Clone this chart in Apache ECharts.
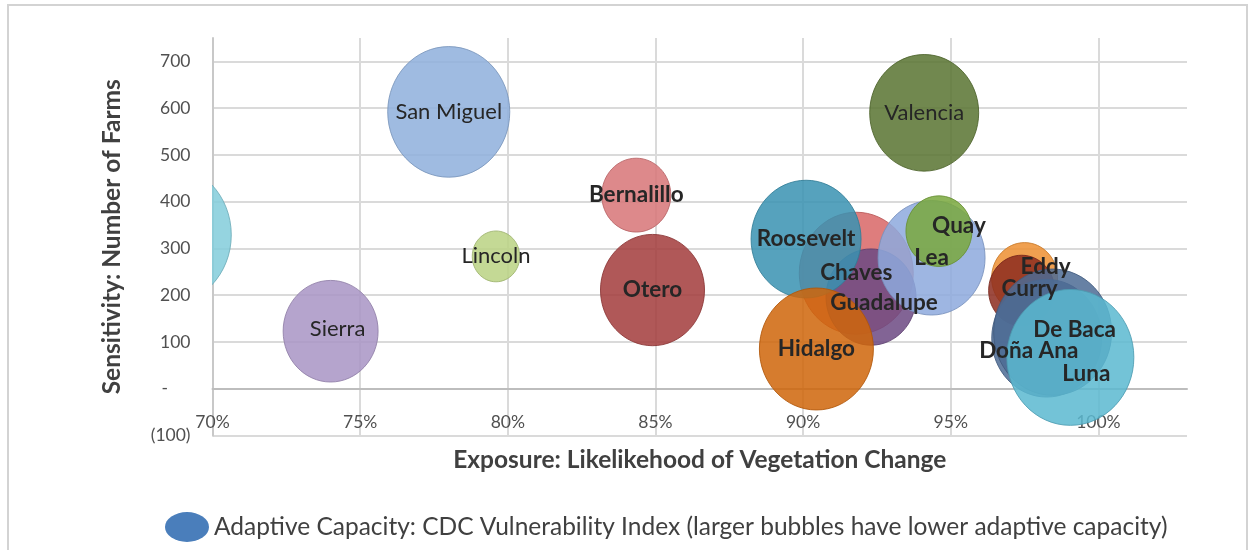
<!DOCTYPE html>
<html>
<head>
<meta charset="utf-8">
<script src="https://cdn.jsdelivr.net/npm/echarts@6/dist/echarts.min.js"></script>
<style>
  html, body { margin: 0; padding: 0; background: #ffffff; }
  #chart { width: 1255px; height: 550px; }
</style>
</head>
<body>
<div id="chart"></div>
<script>
// ---- Data ----
const counties = ['Mora', 'Sierra', 'San Miguel', 'Lincoln', 'Bernalillo', 'Otero', 'Valencia',
  'Chaves', 'Guadalupe', 'Lea', 'Quay', 'Roosevelt', 'Hidalgo', 'Eddy', 'Curry',
  'Doña Ana', 'De Baca', 'Luna'];
// Exposure: likelihood of vegetation change (%)
const exposure = [68.4, 74.0, 78.0, 79.6, 84.35, 84.9, 94.1,
  91.8, 92.3, 94.35, 94.6, 90.1, 90.45, 97.5, 97.4,
  98.25, 98.45, 99.05];
// Sensitivity: number of farms
const farms = [329, 123, 592, 283, 414, 211, 590,
  247, 196, 280, 337, 320, 85, 237, 210,
  108, 121, 67];
// Adaptive capacity: CDC vulnerability index (bubble size)
const cdcIndex = [0.89, 0.46, 0.76, 0.115, 0.243, 0.552, 0.606,
  0.663, 0.413, 0.584, 0.222, 0.617, 0.663, 0.222, 0.222,
  0.617, 0.71, 0.823];
const yTickValues = [-100, 0, 100, 200, 300, 400, 500, 600, 700];
const xTickValues = [70, 75, 80, 85, 90, 95, 100];

const xTitle = 'Exposure: Likelikehood of Vegetation Change';
const yTitle = 'Sensitivity: Number of Farms';
const legendLabel = 'Adaptive Capacity: CDC Vulnerability Index (larger bubbles have lower adaptive capacity)';

// ---- Styles ----
const bubbleColors = ['#83CCDA', '#A894C4', '#8EAFDC', '#BAD283', '#D77477', '#A23B3B', '#587330',
  '#D86666', '#6C4983', '#8DA9DD', '#79A83D', '#3892B2', '#CF6509', '#ED8F31', '#8C2C1E',
  '#4C6B94', '#4C6B94', '#5AB8D0'];
const regularLabels = ['San Miguel', 'Valencia', 'Lincoln', 'Sierra'];
const labelNudge = {
  'Sierra': [7, -2], 'Guadalupe': [13, 6], 'Quay': [20, -5], 'Eddy': [21, -11],
  'Curry': [8, -2], 'De Baca': [22, -2], 'Doña Ana': [-18, 13], 'Luna': [16, 16]
};
const SIZE_K = 140;     // diameter in px for an index of 1
const STRETCH_Y = 1.07; // reference picture is slightly stretched vertically
const FONT = 'Lato, "Open Sans", sans-serif';

const rows = counties.map((c, i) => [exposure[i], farms[i], cdcIndex[i]]);

function darker(hex, f) {
  const n = parseInt(hex.slice(1), 16);
  const r = Math.round(((n >> 16) & 255) * f), g = Math.round(((n >> 8) & 255) * f), b = Math.round((n & 255) * f);
  return 'rgb(' + r + ',' + g + ',' + b + ')';
}

const chart = echarts.init(document.getElementById('chart'), null, { renderer: 'canvas' });

const option = {
  backgroundColor: '#ffffff',
  animation: false,
  graphic: [{
    type: 'rect', silent: true, z: -10,
    shape: { x: 8, y: 5, width: 1239, height: 600 },
    style: { fill: 'none', stroke: '#d3d3d3', lineWidth: 2 }
  }],
  grid: { left: 212.5, top: 38, right: 68, bottom: 114.5, containLabel: false },
  xAxis: {
    type: 'value', min: 70, max: 103, interval: 5,
    axisLine: { onZero: true, lineStyle: { color: '#bdbdbd', width: 2 } },
    axisTick: { show: false },
    splitLine: { show: true, showMaxLine: false, lineStyle: { color: '#dadada', width: 2 } },
    axisLabel: {
      showMaxLabel: false, margin: -22, fontSize: 17.5, color: '#505050', fontFamily: FONT,
      formatter: v => (xTickValues.indexOf(Math.round(v)) >= 0 ? Math.round(v) + '%' : '')
    },
    name: xTitle, nameLocation: 'middle', nameGap: 12,
    nameTextStyle: { fontSize: 24.5, fontWeight: 'bold', color: '#404040', fontFamily: FONT }
  },
  yAxis: {
    type: 'value', min: -100, max: 750, interval: 100,
    axisLine: { show: true, onZero: false, lineStyle: { color: '#c8c8c8', width: 2 } },
    axisTick: { show: false },
    splitLine: { show: true, showMaxLine: false, lineStyle: { color: '#dadada', width: 2 } },
    axisLabel: {
      showMaxLabel: false, margin: 22, fontSize: 17.5, color: '#505050', fontFamily: FONT,
      formatter: v => {
        if (yTickValues.indexOf(v) < 0) return '';
        if (v === 0) return '-     ';
        if (v < 0) return '(' + (-v) + ')';
        return String(v);
      }
    },
    name: yTitle, nameLocation: 'middle', nameGap: 88, nameRotate: 90,
    nameTextStyle: { fontSize: 24.5, fontWeight: 'bold', color: '#404040', fontFamily: FONT }
  },
  legend: {
    data: [{ name: legendLabel, icon: 'path://M0,15A22,15 0 1 1 44,15A22,15 0 1 1 0,15Z' }],
    left: 160, top: 507, itemWidth: 44, itemHeight: 30, selectedMode: false,
    textStyle: { fontSize: 24.5, color: '#404040', fontFamily: FONT }
  },
  series: [{
    type: 'custom',
    name: legendLabel,
    clip: true,
    itemStyle: { color: '#4A7EBB' },
    dimensions: ['exposure', 'farms', 'cdc'],
    encode: { x: 0, y: 1 },
    data: rows,
    renderItem: function (params, api) {
      const i = params.dataIndex;
      const p = api.coord([api.value(0), api.value(1)]);
      const rx = SIZE_K * Math.sqrt(api.value(2)) / 2;
      const ry = rx * STRETCH_Y;
      const name = counties[i];
      const nudge = labelNudge[name] || [0, 0];
      const bold = regularLabels.indexOf(name) < 0;
      return {
        type: 'group',
        children: [{
          type: 'ellipse',
          shape: { cx: p[0], cy: p[1], rx: rx, ry: ry },
          style: { fill: bubbleColors[i], stroke: darker(bubbleColors[i], 0.85), lineWidth: 1, opacity: 0.85 },
          z2: i
        }, {
          type: 'text',
          x: p[0] + nudge[0], y: p[1] + nudge[1],
          style: {
            text: name, fill: '#262626', fontSize: bold ? 22.5 : 22, fontFamily: FONT,
            fontWeight: bold ? 'bold' : 'normal', align: 'center', verticalAlign: 'middle'
          },
          z2: 100
        }]
      };
    }
  }]
};

chart.setOption(option);
</script>
</body>
</html>
